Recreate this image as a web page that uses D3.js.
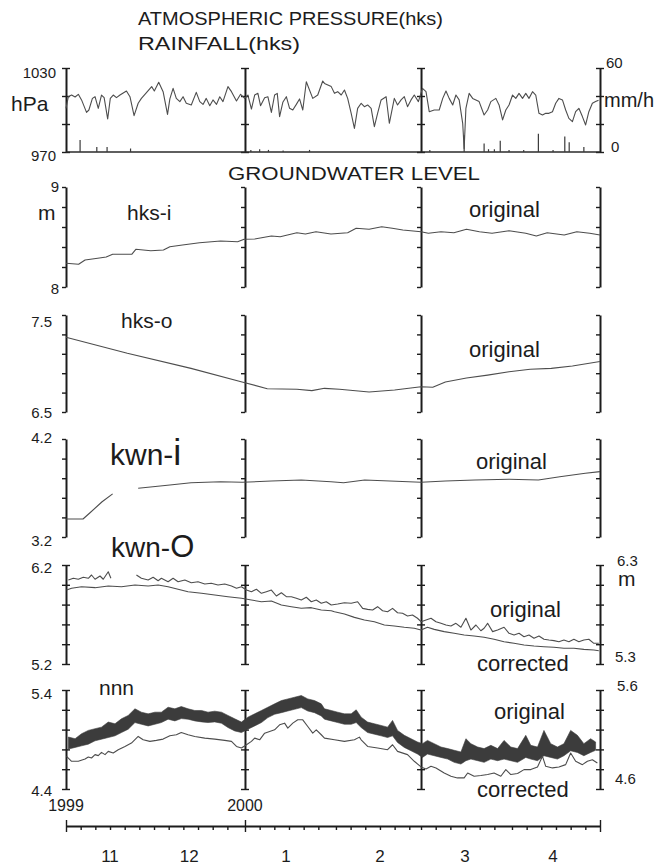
<!DOCTYPE html>
<html>
<head>
<meta charset="utf-8">
<script src="https://cdn.jsdelivr.net/npm/d3@7"></script>
<style>
  body { margin: 0; background: #fff; }
  svg { display: block; font-family: "Liberation Sans", Arial, sans-serif; }
  .axis .domain { stroke: #1c1c1c; stroke-width: 2; }
  .axis .tick line { stroke: #1c1c1c; stroke-width: 1.4; }
  .trace { fill: none; stroke: #4d4d4d; stroke-width: 1.1; stroke-linejoin: round; }
  .lbl { fill: #1c1c1c; }
</style>
</head>
<body>
<div id="chart"></div>
<script>
// days counted from 1 Nov 1999 (0) to 1 May 2000 (182)
const gridDays = [0, 61, 121, 182];
const monthStarts = [0, 30, 61, 92, 121, 152];
const monthNames = ["11", "12", "1", "2", "3", "4"];
const monthLabelDays = [15, 42, 75, 107, 136, 166];
const yearLabels = [[0, "1999"], [61, "2000"]];

// atmospheric pressure (hPa) at hks
const pressure = [[0,1001.2],[0.8,1009.5],[1.9,1010.7],[3.1,1009.3],[4.2,1011.2],[5.3,1007.2],[7.0,998.3],[7.8,1000],[9.0,1008.3],[9.9,1009.5],[11,1001.2],[12.1,1010.7],[13,1008.8],[14.2,993.6],[15.1,1008.3],[16.1,1010.7],[17.2,1008.8],[18.4,1010.7],[20.6,1013.6],[21.8,1009.5],[23.2,996],[24.6,1004.8],[25.7,1008.3],[26.9,1011.2],[29.2,1016.7],[30.1,1013.6],[31.6,1019.8],[33.1,1013.1],[34.6,996.9],[35.4,1007.9],[36.5,1015.5],[37.6,1008.3],[38.8,1006],[39.9,1009.5],[41,1004.8],[42.7,1003.6],[44.4,1012.6],[45.6,1006],[46.7,1004],[47.8,1008.3],[49,1003.1],[50.1,1007.2],[51.3,1004],[52.4,1009.5],[53.5,1006],[55.2,1016.7],[56.4,1013.1],[58.1,1006.4],[59.5,1011.2],[60.9,1008.3],[62,1010.7],[63.2,1000.7],[64.3,1010.7],[65.4,1011.9],[66.3,1003.1],[67.7,1008.8],[68.8,1009.5],[70,998.3],[71.1,1010.7],[72,1011.9],[72.8,995.3],[73.9,1005.5],[75.1,1009.5],[76.2,1001.2],[77.3,1000],[78.5,1004],[79.6,1007.9],[80.7,1000],[81.9,1020.2],[84.1,1008.3],[85.8,1010.7],[87.5,1020.7],[88.1,1019],[90.4,1016.7],[91.5,1011.9],[92.6,1013.1],[93.8,1010.7],[94.9,1014.3],[96.0,1008.3],[97.2,997.6],[98.3,986.9],[99.4,1001.2],[100.6,1004.8],[101.7,1002.4],[102.8,1003.6],[104,1001.2],[105.1,988.1],[106.2,997.6],[107.4,1007.2],[109.1,1009.5],[110.2,990.5],[111.9,1008.3],[113,1003.6],[114.2,1007.2],[115.3,1009.5],[116.4,1002.4],[117.6,1007.2],[118.7,1010.7],[120.1,1006],[121.5,1015.5],[122.7,1013.1],[123.8,998.8],[125.5,1000],[127.2,1000],[128.4,1008.3],[129.5,1013.6],[130.6,1008.3],[131.8,1003.6],[132.9,1010.7],[134,1007.2],[135.2,990.5],[135.7,972.6],[136.3,1001.2],[137.4,1011.9],[138.6,1008.3],[139.7,1007.2],[140.8,1006],[142.5,996.4],[143.7,1000],[144.8,1006],[146.5,1008.3],[147.6,1003.6],[148.8,992.9],[149.9,1000],[151,1003.6],[152.2,1010.7],[153.3,1008.3],[154.4,1011.9],[155.6,1008.3],[156.7,1011.9],[157.8,1008.3],[159,1013.1],[160.1,1010.7],[161.2,997.6],[162.4,996.4],[163.5,997.6],[164.6,997.6],[165.8,998.8],[166.9,1004.8],[168,1008.3],[169.2,1007.2],[170.3,1000],[171.4,994],[172.6,991.7],[173.7,998.8],[174.8,1001.2],[176,995.3],[177.1,989.3],[178.2,998.8],[179.4,1004.8],[180.5,1006],[181.5,1007]];

// rainfall (mm/h) at hks
const rainfall = [[4.8,8.5],[10.5,3.5],[14,3.5],[22,2.5],[63,1.5],[66,2],[69,1.5],[74,1],[83,1.5],[124,1.5],[135.7,12],[142.5,6],[144,2],[146,2],[148,8],[151,1.5],[156,1.5],[161,13],[166,1.5],[170,11],[171.5,7],[176.5,3.5]];

// groundwater levels (m)
const hksI = [[0,8.237],[4.3,8.227],[6.5,8.27],[10.8,8.287],[13.7,8.30],[15.9,8.327],[22.4,8.327],[23.8,8.377],[28.9,8.363],[33.2,8.37],[35.4,8.403],[39.7,8.42],[45.5,8.443],[52.7,8.46],[58.5,8.453],[60.7,8.477],[64.3,8.48],[70,8.51],[73,8.503],[78.7,8.543],[81.6,8.53],[85.2,8.553],[90.3,8.53],[96,8.543],[98.9,8.587],[103.3,8.577],[107.6,8.603],[111.2,8.587],[114.8,8.57],[121,8.553],[123.5,8.537],[127.8,8.553],[132.2,8.543],[136.5,8.577],[140.9,8.553],[145.2,8.537],[151,8.563],[156.7,8.537],[160.3,8.51],[164,8.543],[169.8,8.52],[174.1,8.553],[178.5,8.537],[182,8.52]];

const hksO = [[0,7.27],[20.9,7.105],[42.6,6.95],[60,6.81],[68.6,6.74],[78.7,6.734],[83.8,6.72],[88.1,6.744],[93.2,6.734],[103.3,6.706],[112,6.727],[121,6.76],[125,6.755],[129.3,6.81],[136.5,6.85],[143.7,6.88],[151,6.915],[158.2,6.94],[165.4,6.95],[172.6,6.974],[182,7.02]];

const kwnI = [[0,3.384],[5.8,3.384],[8,3.442],[12.3,3.56],[15.9,3.64],[20,null],[24.6,3.697],[29.6,3.713],[35.4,3.73],[42.6,3.754],[52.7,3.764],[60,3.758],[70,3.771],[80.2,3.782],[90.3,3.764],[94.6,3.754],[101.8,3.782],[110.4,3.771],[121,3.758],[129.3,3.771],[139.4,3.782],[151,3.789],[161,3.782],[168.3,3.815],[177,3.85],[182,3.867]];

const kwnOOriginal = [[0.8,6.048],[2.5,6.066],[4.2,6.056],[5.9,6.076],[7.6,6.066],[8.7,6.099],[9.9,6.056],[11.6,6.089],[12.7,6.056],[14.4,6.132],[15.3,6.066],[20,null],[24.0,6.099],[25.7,6.066],[28.0,6.048],[29.7,6.076],[31.4,6.041],[32.5,6.066],[34.8,6.031],[36.5,6.066],[38.2,6.031],[40.5,6.048],[42.7,6.021],[45.0,6.031],[47.3,6.008],[49.5,6.015],[51.8,5.998],[54.1,6.008],[56.4,5.988],[58.1,5.965],[59.8,5.981],[61.5,5.947],[63.2,5.930],[64.9,5.955],[66.6,5.914],[68.3,5.930],[70.0,5.947],[71.7,5.887],[73.4,5.920],[75.1,5.880],[76.8,5.880],[78.5,5.864],[80.2,5.846],[81.9,5.874],[83.6,5.829],[85.3,5.846],[87.0,5.813],[88.7,5.829],[90.4,5.796],[92.6,5.806],[94.9,5.819],[97.2,5.813],[99.4,5.829],[101.1,5.762],[102.8,5.752],[104.5,5.745],[106.2,5.779],[107.9,5.738],[109.6,5.728],[111.3,5.762],[113.0,5.718],[114.7,5.712],[116.4,5.685],[118.1,5.695],[119.8,5.662],[121.0,5.627],[122.7,5.644],[124.4,5.662],[126.1,5.627],[127.8,5.611],[129.5,5.594],[131.2,5.584],[132.9,5.611],[134.6,5.571],[136.3,5.662],[138.0,5.543],[139.7,5.594],[141.4,5.536],[142.5,5.561],[143.7,5.611],[145.4,5.527],[147.1,5.543],[149.3,5.571],[151.0,5.510],[152.7,5.493],[154.4,5.510],[156.1,5.476],[157.8,5.493],[159.5,5.460],[161.2,5.483],[162.9,5.450],[164.6,5.442],[166.3,5.436],[168.0,5.425],[169.7,5.442],[171.4,5.425],[173.1,5.450],[174.8,5.425],[176.5,5.442],[178.2,5.450],[179.9,5.409],[181.6,5.409]];

const kwnOCorrected = [[0.2,6.047],[1.9,6.065],[5.3,6.081],[9.9,6.071],[14.4,6.088],[18.9,6.081],[23.5,6.098],[28.0,6.088],[31.4,6.098],[34.8,6.081],[38.2,6.055],[41.6,6.030],[46.2,6.014],[50.7,5.997],[55.2,5.980],[59.8,5.964],[63.2,5.946],[66.6,5.929],[70.0,5.936],[73.4,5.896],[76.8,5.879],[80.2,5.863],[83.6,5.869],[87.0,5.845],[90.4,5.838],[91.5,5.828],[94.9,5.805],[98.3,5.771],[101.7,5.744],[105.1,5.727],[108.5,5.694],[111.9,5.684],[115.3,5.671],[118.7,5.661],[121.0,5.643],[123.2,5.671],[125.5,5.650],[128.9,5.627],[132.3,5.610],[135.7,5.593],[139.1,5.583],[142.5,5.570],[145.9,5.550],[149.3,5.525],[152.7,5.509],[156.1,5.492],[159.5,5.482],[162.9,5.475],[166.3,5.469],[169.7,5.459],[173.1,5.459],[176.5,5.448],[179.9,5.441],[181.6,5.434]];

// nnn original: [day, high, low] envelope of the noisy record
const nnnOriginal = [[0.8,4.925,4.803],[3.1,4.908,4.820],[5.3,4.958,4.836],[7.6,4.992,4.853],[9.9,5.009,4.887],[12.1,5.025,4.903],[14.4,5.076,4.920],[16.7,5.059,4.937],[18.9,5.109,4.970],[21.2,5.143,5.004],[23.5,5.210,5.071],[25.7,5.176,5.054],[28.0,5.159,5.037],[30.3,5.176,5.054],[32.5,5.176,5.071],[34.8,5.226,5.105],[37.1,5.210,5.088],[39.3,5.233,5.111],[41.6,5.210,5.105],[43.9,5.193,5.088],[46.2,5.193,5.078],[48.4,5.176,5.071],[50.7,5.186,5.078],[53.0,5.176,5.064],[55.2,5.143,5.021],[57.5,5.109,4.987],[59.8,5.076,4.970],[62.0,5.126,5.004],[64.3,5.159,5.037],[66.6,5.193,5.071],[68.8,5.226,5.121],[71.1,5.260,5.155],[73.4,5.293,5.171],[75.6,5.310,5.188],[77.9,5.327,5.205],[80.2,5.344,5.222],[82.4,5.310,5.188],[84.7,5.293,5.171],[87.0,5.260,5.138],[88.1,5.210,5.105],[90.4,5.193,5.088],[92.6,5.176,5.071],[94.9,5.159,5.054],[97.2,5.159,5.054],[98.9,5.200,5.071],[100.6,5.126,5.021],[102.8,5.076,4.970],[105.1,5.059,4.954],[107.4,5.042,4.937],[109.6,5.025,4.920],[111.3,5.093,4.937],[113.0,4.992,4.870],[115.3,4.942,4.820],[117.6,4.908,4.786],[119.8,4.875,4.753],[121.5,4.858,4.719],[123.2,4.891,4.753],[125.5,4.858,4.736],[127.8,4.824,4.719],[130.1,4.808,4.702],[132.3,4.791,4.669],[134.6,4.774,4.652],[136.3,4.908,4.686],[138.0,4.858,4.702],[140.3,4.824,4.686],[142.5,4.808,4.669],[144.8,4.841,4.702],[147.1,4.808,4.686],[149.3,4.891,4.702],[151.6,4.824,4.686],[153.9,4.808,4.669],[156.7,4.942,4.719],[158.4,4.841,4.702],[160.7,4.824,4.686],[162.9,4.992,4.736],[165.2,4.858,4.719],[167.5,4.824,4.702],[169.7,4.858,4.736],[172.0,4.992,4.786],[174.3,4.942,4.769],[176.5,4.858,4.736],[178.8,4.908,4.769],[180.5,4.875,4.791]];

const nnnCorrected = [[0.2,4.930],[1.9,4.880],[4.2,4.880],[6.5,4.903],[7.6,4.923],[8.7,4.913],[9.9,4.947],[11.0,4.937],[12.1,4.970],[13.3,4.947],[14.4,4.980],[16.1,4.963],[17.8,4.997],[20.1,5.030],[22.3,5.064],[24.6,5.131],[26.3,5.097],[28.6,5.081],[30.8,5.091],[33.1,5.104],[35.4,5.138],[37.6,5.148],[39.3,5.171],[41.6,5.148],[43.9,5.131],[47.3,5.114],[50.7,5.104],[54.1,5.091],[56.4,5.081],[58.1,5.030],[59.8,5.014],[61.5,5.047],[63.2,5.081],[64.3,5.114],[66.0,5.097],[67.7,5.164],[69.4,5.181],[71.1,5.198],[72.8,5.248],[74.5,5.265],[75.6,5.215],[77.3,5.265],[79.0,5.299],[80.7,5.299],[82.4,5.231],[84.1,5.164],[85.3,5.198],[87.0,5.148],[88.1,5.114],[91.5,5.097],[94.9,5.081],[98.3,5.097],[100.0,5.124],[100.6,5.097],[102.8,5.030],[106.2,5.014],[109.6,4.997],[111.3,5.047],[113.0,4.980],[116.4,4.947],[118.7,4.880],[121.0,4.823],[122.7,4.803],[124.4,4.829],[126.1,4.813],[128.9,4.762],[131.2,4.729],[133.4,4.712],[135.7,4.712],[136.9,4.762],[139.1,4.729],[141.4,4.736],[143.7,4.746],[145.9,4.762],[148.2,4.729],[149.9,4.796],[151.6,4.746],[153.9,4.756],[156.1,4.796],[158.4,4.796],[160.7,4.823],[162.4,4.930],[163.5,4.829],[165.8,4.813],[168.0,4.823],[170.3,4.846],[172.0,4.963],[173.7,4.880],[176.0,4.846],[177.7,4.880],[179.4,4.896],[181.1,4.863]];

const width = 663, height = 866;

const svg = d3.select("#chart").append("svg")
  .attr("width", width)
  .attr("height", height)
  .attr("viewBox", [0, 0, width, height]);

const x = d3.scaleLinear().domain([0, 182]).range([66, 600]);

const evenTicks = (lo, hi, n) => d3.range(n + 1).map(i => lo + i * (hi - lo) / n);

const panels = [
  {key: "press", top: 68, bottom: 152, left: [970, 1030], right: [0, 60], n: 3, both: true},
  {key: "hksI", top: 187, bottom: 287, left: [8, 9], n: 5, both: false},
  {key: "hksO", top: 315, bottom: 412, left: [6.5, 7.5], n: 5, both: false},
  {key: "kwnI", top: 439, bottom: 537, left: [3.2, 4.2], n: 5, both: false},
  {key: "kwnO", top: 565, bottom: 664, left: [5.2, 6.2], right: [5.3, 6.3], n: 5, both: true},
  {key: "nnn", top: 690, bottom: 789, left: [4.4, 5.4], right: [4.6, 5.6], n: 5, both: true}
];

panels.forEach(p => {
  p.y = d3.scaleLinear().domain(p.left).range([p.bottom, p.top]);
  if (p.right) p.y2 = d3.scaleLinear().domain(p.right).range([p.bottom, p.top]);

  const axis = d3.axisLeft(p.y)
    .tickValues(evenTicks(p.left[0], p.left[1], p.n))
    .tickSize(4)
    .tickSizeOuter(0)
    .tickFormat("");

  gridDays.forEach(d => {
    const g = svg.append("g")
      .attr("class", "axis")
      .attr("transform", `translate(${x(d)},0)`)
      .call(axis);
    if (p.both) g.selectAll(".tick line").attr("x1", 4).attr("x2", -4);
  });
});

const byKey = Object.fromEntries(panels.map(p => [p.key, p]));

const lineFor = (yScale) => d3.line()
  .defined(d => d[1] !== null)
  .x(d => x(d[0]))
  .y(d => yScale(d[1]));

// pressure + rainfall
const pp = byKey.press;
svg.append("line")
  .attr("x1", x(0)).attr("x2", x(182))
  .attr("y1", pp.bottom).attr("y2", pp.bottom)
  .attr("stroke", "#2a2a2a").attr("stroke-width", 1.6);

svg.append("g")
  .selectAll("line")
  .data(rainfall)
  .join("line")
    .attr("x1", d => x(d[0])).attr("x2", d => x(d[0]))
    .attr("y1", pp.bottom).attr("y2", d => pp.y2(d[1]))
    .attr("stroke", "#3a3a3a").attr("stroke-width", 1.2);

svg.append("path")
  .datum(pressure)
  .attr("class", "trace")
  .attr("stroke", "#383838")
  .attr("stroke-width", 1.3)
  .attr("d", lineFor(pp.y));

// groundwater single lines
svg.append("path").datum(hksI).attr("class", "trace").attr("d", lineFor(byKey.hksI.y));
svg.append("path").datum(hksO).attr("class", "trace").attr("d", lineFor(byKey.hksO.y));
svg.append("path").datum(kwnI).attr("class", "trace").attr("d", lineFor(byKey.kwnI.y));

const pk = byKey.kwnO;
svg.append("path").datum(kwnOOriginal).attr("class", "trace").attr("d", lineFor(pk.y));
svg.append("path").datum(kwnOCorrected).attr("class", "trace").attr("d", lineFor(pk.y2));

const pn = byKey.nnn;
svg.append("path")
  .datum(nnnOriginal)
  .attr("fill", "#3c3c3c")
  .attr("stroke", "#3c3c3c")
  .attr("stroke-width", 0.6)
  .attr("d", d3.area()
    .x(d => x(d[0]))
    .y0(d => pn.y(d[2]))
    .y1(d => pn.y(d[1])));
svg.append("path")
  .datum(nnnCorrected)
  .attr("class", "trace")
  .attr("stroke", "#222")
  .attr("stroke-width", 1.5)
  .attr("d", lineFor(pn.y2));

// bottom time axis
const axisY = 826;
const pentads = monthStarts.flatMap(m => [0, 5, 10, 15, 20, 25].map(k => m + k)).concat([182]);
const xAxis = d3.axisBottom(x).tickValues(pentads).tickSize(4).tickSizeOuter(0).tickFormat("");
const gx = svg.append("g")
  .attr("class", "axis")
  .attr("transform", `translate(0,${axisY})`)
  .call(xAxis);
gx.selectAll(".tick line").filter(d => d === 0 || d === 61 || d === 182)
  .attr("y1", -6).attr("y2", 6);

svg.append("g")
  .selectAll("text")
  .data(yearLabels)
  .join("text")
    .attr("class", "lbl")
    .attr("x", d => x(d[0]))
    .attr("y", 811)
    .attr("text-anchor", "middle")
    .attr("font-size", 16)
    .text(d => d[1]);

svg.append("g")
  .selectAll("text")
  .data(monthNames)
  .join("text")
    .attr("class", "lbl")
    .attr("x", (d, i) => x(monthLabelDays[i]))
    .attr("y", 862)
    .attr("text-anchor", "middle")
    .attr("font-size", 17)
    .text(d => d);

// text labels: [text, x, baseline, size, anchor]
const texts = [
  ["1030", 56, 78, 15, "end"],
  ["970", 56, 161, 15, "end"],
  ["hPa", 11, 111, 21, "start"],
  ["60", 606, 68, 15, "start"],
  ["mm/h", 604, 107, 20, "start"],
  ["0", 611, 152, 15, "start"],
  ["9", 59, 192, 15, "end"],
  ["8", 59, 294, 15, "end"],
  ["m", 38, 220, 21, "start"],
  ["hks-i", 127, 220, 21, "start"],
  ["original", 469, 217, 22, "start"],
  ["7.5", 52, 327, 15, "end"],
  ["6.5", 52, 418, 15, "end"],
  ["hks-o", 121, 328, 21, "start"],
  ["original", 469, 357, 22, "start"],
  ["4.2", 52, 443, 15, "end"],
  ["3.2", 52, 546, 15, "end"],
  ["original", 476, 469, 22, "start"],
  ["6.2", 52, 573, 15, "end"],
  ["5.2", 52, 670, 15, "end"],
  ["6.3", 617, 566, 15, "start"],
  ["m", 618, 586, 21, "start"],
  ["5.3", 615, 662, 15, "start"],
  ["original", 490, 617, 22, "start"],
  ["corrected", 477, 671, 22, "start"],
  ["nnn", 99, 695, 21, "start"],
  ["5.4", 52, 699, 15, "end"],
  ["4.4", 52, 796, 15, "end"],
  ["5.6", 617, 691, 15, "start"],
  ["4.6", 615, 784, 15, "start"],
  ["original", 494, 719, 22, "start"],
  ["corrected", 477, 797, 22, "start"]
];

svg.append("g")
  .selectAll("text")
  .data(texts)
  .join("text")
    .attr("class", "lbl")
    .attr("x", d => d[1])
    .attr("y", d => d[2])
    .attr("font-size", d => d[3])
    .attr("text-anchor", d => d[4])
    .text(d => d[0]);

// headings, stretched to the width they take in the figure
const headings = [
  ["ATMOSPHERIC PRESSURE(hks)", 138, 25, 305],
  ["RAINFALL(hks)", 138, 50, 162],
  ["GROUNDWATER LEVEL", 228, 180, 252]
];
svg.append("g")
  .selectAll("text")
  .data(headings)
  .join("text")
    .attr("class", "lbl")
    .attr("x", d => d[1])
    .attr("y", d => d[2])
    .attr("font-size", 19)
    .attr("textLength", d => d[3])
    .attr("lengthAdjust", "spacingAndGlyphs")
    .text(d => d[0]);

// big station names
const big = svg.append("g").attr("class", "lbl");
big.append("text")
  .attr("x", 110).attr("y", 465)
  .attr("font-size", 30)
  .call(t => t.append("tspan").text("kwn-"))
  .call(t => t.append("tspan").attr("font-size", 36).text("i"));
big.append("text")
  .attr("x", 111).attr("y", 557)
  .attr("font-size", 28)
  .call(t => t.append("tspan").text("kwn-"))
  .call(t => t.append("tspan").attr("font-size", 31).text("O"));
</script>
</body>
</html>
